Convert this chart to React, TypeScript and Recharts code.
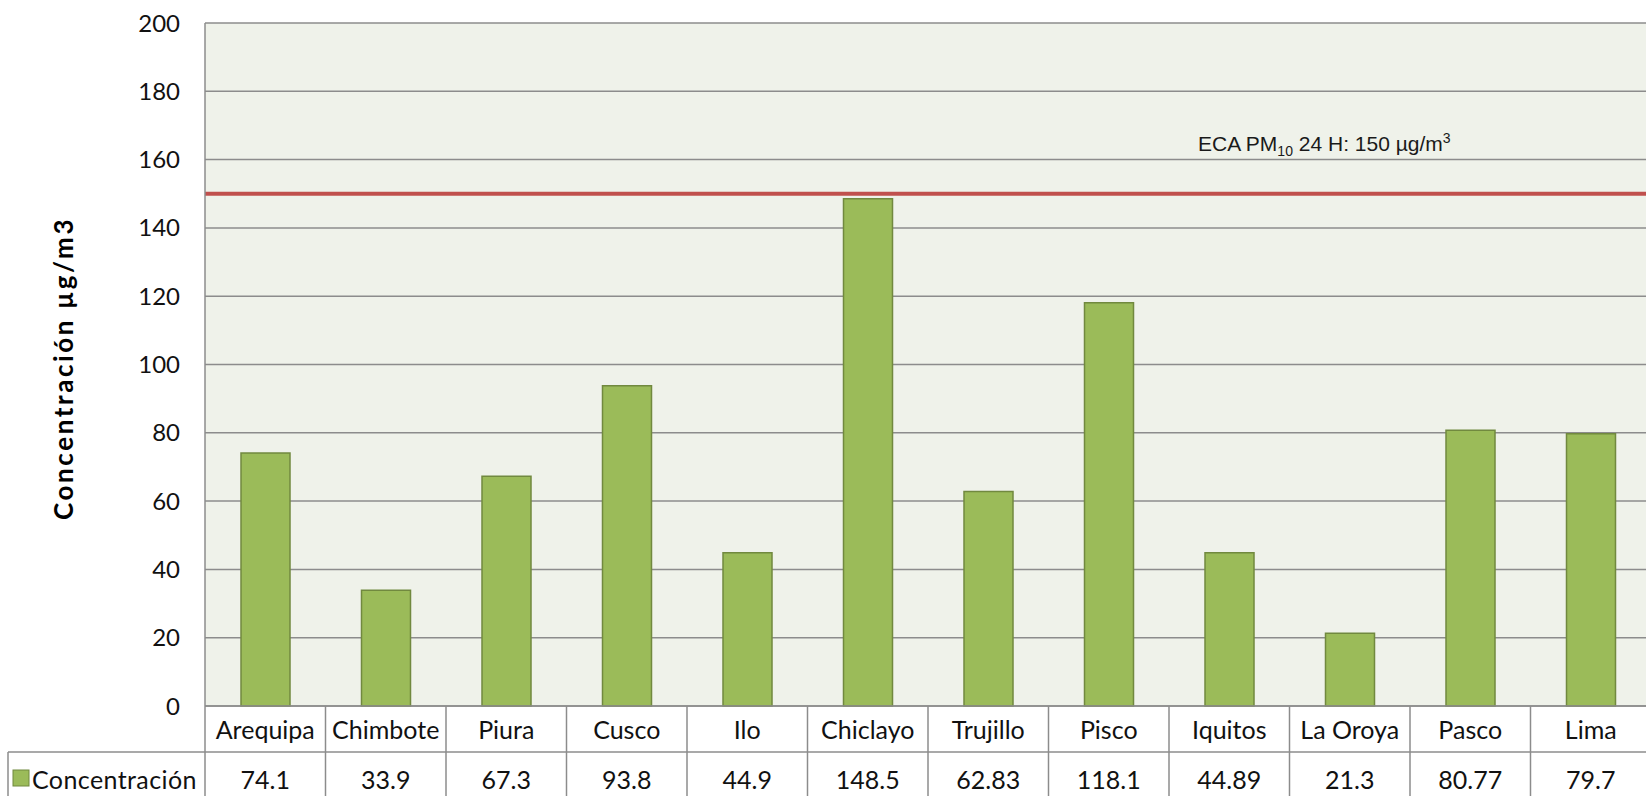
import React from "react";
import { Bar, BarChart, CartesianGrid, ReferenceLine, XAxis, YAxis } from "recharts";

const cities = [
  "Arequipa",
  "Chimbote",
  "Piura",
  "Cusco",
  "Ilo",
  "Chiclayo",
  "Trujillo",
  "Pisco",
  "Iquitos",
  "La Oroya",
  "Pasco",
  "Lima",
];
const concentrations = [74.1, 33.9, 67.3, 93.8, 44.9, 148.5, 62.83, 118.1, 44.89, 21.3, 80.77, 79.7];
const valueLabels = ["74.1", "33.9", "67.3", "93.8", "44.9", "148.5", "62.83", "118.1", "44.89", "21.3", "80.77", "79.7"];
const yTicks = [0, 20, 40, 60, 80, 100, 120, 140, 160, 180, 200];
const ecaLimit = 150;
const seriesName = "Concentración";

const data = cities.map((city, i) => ({ city, value: concentrations[i] }));

const CHART_W = 1660;
const CHART_H = 796;
const AXIS_W = 205;
const MARGIN = { top: 23, right: 9, left: 0, bottom: 0 };
const PLOT_W = CHART_W - AXIS_W - MARGIN.left - MARGIN.right;
const BAND = PLOT_W / cities.length;
const ROW = 46;
const GRID = "#8c8c8c";
const BAR_FILL = "#9bbb59";
const BAR_STROKE = "#71893f";
const FONT = "Lato, 'Open Sans', sans-serif";

// category + value table drawn under the plot, one column per tick
const TableTick = (props: any) => {
  const { x, y, payload } = props;
  const i = payload.index;
  const half = BAND / 2;
  return (
    <g>
      {i === 0 && (
        <g>
          <line x1={x - half} y1={y} x2={x - half} y2={y + ROW * 3} stroke={GRID} strokeWidth={1.5} />
          <line x1={8} y1={y + ROW} x2={x - half} y2={y + ROW} stroke={GRID} strokeWidth={1.5} />
          <line x1={8} y1={y + ROW} x2={8} y2={y + ROW * 3} stroke={GRID} strokeWidth={1.5} />
          <rect x={13} y={y + 64} width={16} height={16} fill={BAR_FILL} stroke={BAR_STROKE} strokeWidth={1} />
          <text x={32} y={y + 83} fontFamily={FONT} fontSize={25} letterSpacing={0.4} fill="#111">
            {seriesName}
          </text>
        </g>
      )}
      <line x1={x + half} y1={y} x2={x + half} y2={y + ROW * 3} stroke={GRID} strokeWidth={1.5} />
      <line x1={x - half} y1={y + ROW} x2={x + half} y2={y + ROW} stroke={GRID} strokeWidth={1.5} />
      <text x={x} y={y + 33} textAnchor="middle" fontFamily={FONT} fontSize={25} fill="#111">
        {payload.value}
      </text>
      <text x={x} y={y + 83} textAnchor="middle" fontFamily={FONT} fontSize={25} fill="#111">
        {valueLabels[i]}
      </text>
    </g>
  );
};

const renderYLabel = (props: any) => {
  const { viewBox } = props;
  const cx = viewBox.x + 63;
  const cy = viewBox.y + viewBox.height / 2 + 4;
  return (
    <text
      x={cx}
      y={cy}
      transform={`rotate(-90, ${cx}, ${cy})`}
      textAnchor="middle"
      dominantBaseline="central"
      fontFamily={FONT}
      fontWeight="bold"
      fontSize={26}
      letterSpacing={2.6}
      fill="#000"
    >
      Concentración µg/m3
    </text>
  );
};

const renderEcaLabel = (props: any) => {
  const { viewBox } = props;
  const x = viewBox.x + 993;
  const y = viewBox.y - 43;
  return (
    <text x={x} y={y} fontFamily="'Liberation Sans', Arial, sans-serif" fontSize={21} fill="#1a1a1a">
      ECA PM
      <tspan fontSize={14} dy={5}>
        10
      </tspan>
      <tspan dy={-5}> 24 H: 150 µg/m</tspan>
      <tspan fontSize={14} dy={-8}>
        3
      </tspan>
    </text>
  );
};

export default function App() {
  return (
    <div
      style={{
        position: "fixed",
        left: 0,
        top: 0,
        width: 1646,
        height: 796,
        overflow: "hidden",
        background: "#fff",
      }}
    >
      <BarChart width={CHART_W} height={CHART_H} data={data} margin={MARGIN} barSize={49}>
        <CartesianGrid vertical={false} stroke={GRID} strokeWidth={1.5} fill="#eff2ea" />
        <XAxis
          dataKey="city"
          interval={0}
          height={90}
          tickSize={0}
          tickMargin={0}
          tickLine={false}
          axisLine={{ stroke: GRID, strokeWidth: 1.5 }}
          tick={<TableTick />}
        />
        <YAxis
          width={AXIS_W}
          domain={[0, 200]}
          ticks={yTicks}
          tickLine={false}
          tickSize={0}
          tickMargin={25}
          axisLine={{ stroke: GRID, strokeWidth: 1.5 }}
          tick={{ fontFamily: FONT, fontSize: 24, fill: "#111" }}
          label={{ content: renderYLabel }}
        />
        <ReferenceLine y={ecaLimit} stroke="#c0504d" strokeWidth={4} label={{ content: renderEcaLabel }} />
        <Bar dataKey="value" name={seriesName} fill={BAR_FILL} stroke={BAR_STROKE} strokeWidth={1.5} isAnimationActive={false} />
      </BarChart>
    </div>
  );
}
